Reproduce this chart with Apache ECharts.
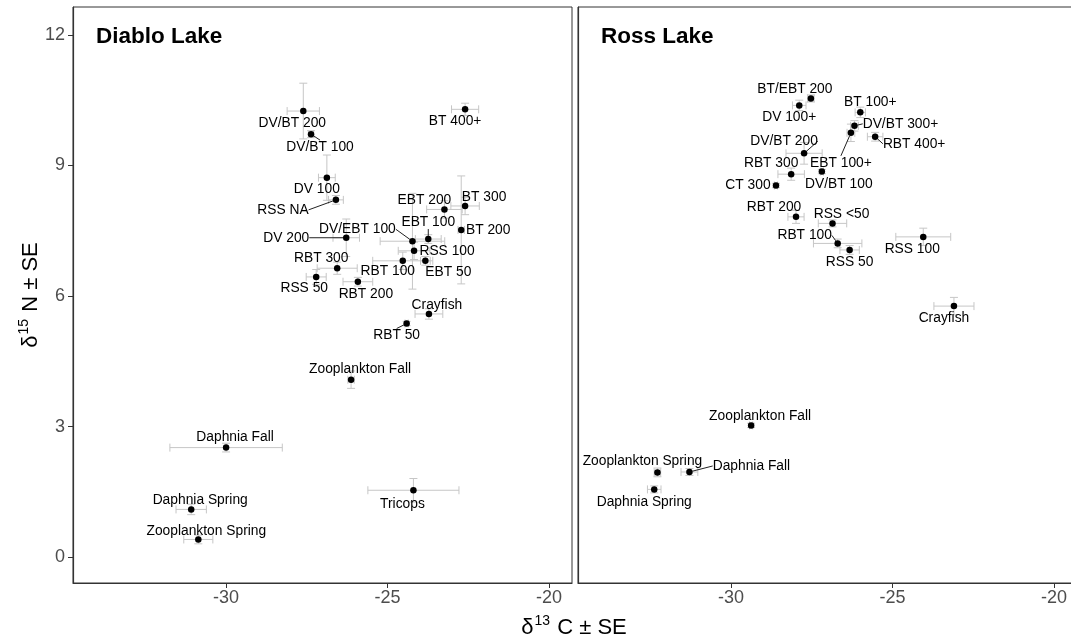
<!DOCTYPE html>
<html><head><meta charset="utf-8">
<script src="https://cdn.jsdelivr.net/npm/echarts@6/dist/echarts.min.js"></script>
<style>html,body{margin:0;padding:0;background:#fff}#c{width:1071px;height:643px}</style>
</head><body><div id="c"></div>
<script>
// ---- data ----
const xTicks = [-30, -25, -20];
const yTicks = [0, 3, 6, 9, 12];

const diabloNames = ['DV/BT 200','DV/BT 100','BT 400+','DV 100','RSS NA','EBT 200','BT 300','BT 200','EBT 100','DV/EBT 100','DV 200','RSS 100','EBT 50','RBT 100','RBT 300','RSS 50','RBT 200','Crayfish','RBT 50','Zooplankton Fall','Daphnia Fall','Daphnia Spring','Zooplankton Spring','Tricops'];
const diabloC = [-27.61,-27.37,-22.60,-26.88,-26.60,-23.24,-22.60,-22.72,-23.74,-24.23,-26.28,-24.18,-23.83,-24.53,-26.56,-27.21,-25.92,-23.72,-24.41,-26.13,-30.00,-31.08,-30.86,-24.20];
const diabloN = [10.25,9.72,10.29,8.72,8.21,7.99,8.07,7.52,7.31,7.26,7.34,7.04,6.81,6.81,6.64,6.44,6.33,5.59,5.37,4.08,2.52,1.10,0.41,1.54];
const diabloCse = [0.50,0.08,0.42,0.26,0.23,0.55,0.44,0.10,0.40,1.00,0.41,0.49,0.15,0.93,0.62,0.31,0.46,0.43,0.05,0.10,1.74,0.47,0.45,1.41];
const diabloNse = [0.64,0.08,0.14,0.52,0.10,0.20,0.20,1.24,0.10,1.10,0.43,0.20,0.10,0.20,0.14,0.17,0.10,0.12,0.05,0.20,0.10,0.12,0.10,0.27];

const rossNames = ['BT/EBT 200','DV 100+','BT 100+','DV/BT 300+','EBT 100+','RBT 400+','DV/BT 200','RBT 300','CT 300','DV/BT 100','RBT 200','RSS <50','RBT 100','RSS 50','RSS 100','Crayfish','Zooplankton Fall','Zooplankton Spring','Daphnia Fall','Daphnia Spring'];
const rossC = [-27.53,-27.89,-26.00,-26.18,-26.29,-25.54,-27.74,-28.14,-28.61,-27.19,-27.99,-26.86,-26.70,-26.33,-24.05,-23.10,-29.38,-32.28,-31.29,-32.38];
const rossN = [10.54,10.38,10.22,9.91,9.75,9.66,9.28,8.80,8.54,8.86,7.82,7.67,7.21,7.06,7.36,5.77,3.03,1.95,1.96,1.56];
const rossCse = [0.10,0.21,0.16,0.12,0.12,0.24,0.56,0.41,0.05,0.05,0.25,0.44,0.75,0.30,0.85,0.62,0.05,0.10,0.26,0.21];
const rossNse = [0.08,0.12,0.12,0.12,0.20,0.10,0.25,0.14,0.05,0.05,0.15,0.08,0.10,0.10,0.20,0.20,0.05,0.10,0.08,0.08];

// ---- label layout (repel-like nudges in px, connector flags) ----
const diabloNudge = [[-11,12],[9,13],[-10,12],[-10,12],[-53,10],[-20,-9],[19,-9],[27,0],[0,-17],[-55,-12],[-60,0],[33,0],[23,11],[-15,10],[-16,-10],[-12,11],[8,12],[8,-9],[-10,12],[9,-10],[9,-10],[9,-9],[8,-8],[-11,14]];
const diabloSeg = [1,4,8,9,10,18];
const rossNudge = [[-16,-9],[-10,12],[10,-10],[46,-2],[-10,30],[39,7],[-20,-12],[-20,-11],[-28,0],[17,13],[-22,-10],[9,-9],[-33,-8],[0,12],[-11,12],[-10,12],[9,-9],[-15,-11],[62,-6],[-10,13]];
const rossSeg = [3,4,5,6,12,18];

const FONT = '"Liberation Sans", Arial, sans-serif';
const X_MIN = -34.74, X_MAX = -19.29, Y_MIN = -0.59, Y_MAX = 12.64;

function errSeries(idx, xs, ys, xe, ye) {
  return {
    type: 'custom', xAxisIndex: idx, yAxisIndex: idx, silent: true, z: 1,
    data: xs.map((x, i) => [x, ys[i], xe[i], ye[i]]),
    renderItem(params, api) {
      const x = api.value(0), y = api.value(1), ex = api.value(2), ey = api.value(3);
      const c = api.coord([x, y]);
      const l = api.coord([x - ex, y]), r = api.coord([x + ex, y]);
      const t = api.coord([x, y + ey]), b = api.coord([x, y - ey]);
      const cap = 4;
      const st = { stroke: '#c6c6c6', lineWidth: 1 };
      const ln = (x1, y1, x2, y2) => ({ type: 'line', shape: { x1, y1, x2, y2 }, style: st });
      return { type: 'group', children: [
        ln(l[0], c[1], r[0], c[1]),
        ln(l[0], c[1] - cap, l[0], c[1] + cap),
        ln(r[0], c[1] - cap, r[0], c[1] + cap),
        ln(c[0], t[1], c[0], b[1]),
        ln(c[0] - cap, t[1], c[0] + cap, t[1]),
        ln(c[0] - cap, b[1], c[0] + cap, b[1])
      ] };
    }
  };
}

function pointSeries(idx, names, xs, ys, nudge, seg) {
  return {
    type: 'scatter', xAxisIndex: idx, yAxisIndex: idx, z: 3,
    symbol: 'circle', symbolSize: 6.5,
    itemStyle: { color: '#000', opacity: 1 },
    data: xs.map((x, i) => ({
      name: names[i], value: [x, ys[i]],
      labelLine: { show: seg.indexOf(i) >= 0 }
    })),
    label: {
      show: true, formatter: '{b}', position: 'inside',
      color: '#000', fontSize: 13.8, fontFamily: FONT
    },
    labelLine: { show: true, lineStyle: { color: '#222', width: 1 } },
    labelLayout(p) {
      const o = nudge[p.dataIndex];
      return { dx: o[0], dy: o[1] };
    }
  };
}

function xAxis(idx) {
  return {
    type: 'value', gridIndex: idx, min: X_MIN, max: X_MAX,
    splitLine: { show: false },
    axisLine: { show: true, onZero: false, lineStyle: { color: '#333', width: 1.2 } },
    axisTick: { show: true, length: 5, customValues: xTicks, lineStyle: { color: '#333' } },
    axisLabel: { show: true, customValues: xTicks, color: '#4d4d4d', fontSize: 18, fontFamily: FONT, margin: 6 }
  };
}
function yAxis(idx, showLabels) {
  return {
    type: 'value', gridIndex: idx, min: Y_MIN, max: Y_MAX,
    splitLine: { show: false },
    axisLine: { show: true, onZero: false, lineStyle: { color: '#333', width: 1.2 } },
    axisTick: { show: showLabels, length: 5, customValues: yTicks, lineStyle: { color: '#333' } },
    axisLabel: { show: showLabels, customValues: yTicks, color: '#4d4d4d', fontSize: 18, fontFamily: FONT, margin: 8 }
  };
}

const chart = echarts.init(document.getElementById('c'), null, { renderer: 'canvas' });
chart.setOption({
  backgroundColor: '#fff',
  animation: false,
  grid: [
    { left: 73, top: 7, width: 499, height: 576, show: true, borderColor: '#333', borderWidth: 1, outerBoundsMode: 'none', containLabel: false },
    { left: 578, top: 7, width: 499, height: 576, show: true, borderColor: '#333', borderWidth: 1, outerBoundsMode: 'none', containLabel: false }
  ],
  xAxis: [xAxis(0), xAxis(1)],
  yAxis: [yAxis(0, true), yAxis(1, false)],
  series: [
    errSeries(0, diabloC, diabloN, diabloCse, diabloNse),
    errSeries(1, rossC, rossN, rossCse, rossNse),
    pointSeries(0, diabloNames, diabloC, diabloN, diabloNudge, diabloSeg),
    pointSeries(1, rossNames, rossC, rossN, rossNudge, rossSeg)
  ],
  graphic: [
    { type: 'text', x: 96, y: 37, style: { text: 'Diablo Lake', font: 'bold 22.5px ' + FONT, fill: '#000', verticalAlign: 'middle' } },
    { type: 'text', x: 601, y: 37, style: { text: 'Ross Lake', font: 'bold 22.5px ' + FONT, fill: '#000', verticalAlign: 'middle' } },
    { type: 'text', x: 574, y: 628, style: {
        text: '{d|δ}{s|13}{n| C ± SE}', align: 'center', verticalAlign: 'middle',
        rich: {
          d: { fontSize: 22, fontFamily: FONT, color: '#000' },
          s: { fontSize: 14, fontFamily: FONT, color: '#000', padding: [0, 1, 13, 1] },
          n: { fontSize: 22, fontFamily: FONT, color: '#000' }
        } } },
    { type: 'text', x: 31, y: 295, rotation: Math.PI / 2, style: {
        text: '{d|δ}{s|15}{n| N ± SE}', align: 'center', verticalAlign: 'middle',
        rich: {
          d: { fontSize: 22, fontFamily: FONT, color: '#000' },
          s: { fontSize: 14, fontFamily: FONT, color: '#000', padding: [0, 1, 13, 1] },
          n: { fontSize: 22, fontFamily: FONT, color: '#000' }
        } } }
  ]
});
</script>
</body></html>
